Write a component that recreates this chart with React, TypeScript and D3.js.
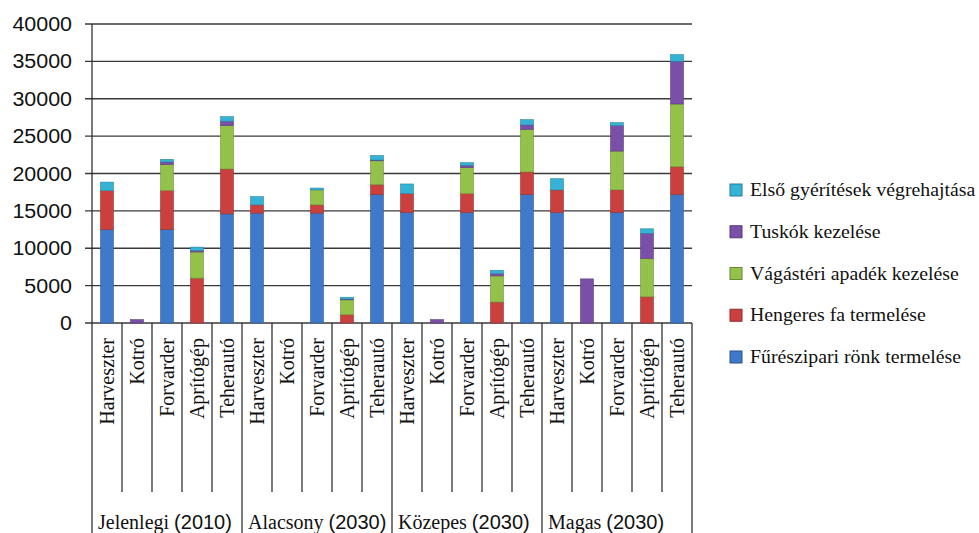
import * as d3 from "d3";
import React from "react";

// categories: machines within each scenario
const machines = ["Harveszter", "Kotró", "Forvarder", "Aprítógép", "Teherautó"];
const scenarios = ["Jelenlegi", "Alacsony", "Közepes", "Magas"];
const scenarioYears = ["(2010)", "(2030)", "(2030)", "(2030)"];

// series values, 20 bars each (scenario x machine)
const fureszipari = [12500, 0, 12500, 0, 14600, 14700, 0, 14700, 0, 17200, 14800, 0, 14800, 0, 17200, 14800, 0, 14800, 0, 17200];
const hengeres = [5200, 0, 5200, 6000, 6000, 1100, 0, 1100, 1100, 1300, 2500, 0, 2500, 2800, 3000, 3000, 0, 3000, 3500, 3700];
const vagasteri = [0, 0, 3500, 3500, 5800, 0, 0, 2000, 2000, 3200, 0, 0, 3500, 3500, 5700, 0, 0, 5200, 5150, 8400];
const tuskok = [0, 450, 350, 200, 600, 0, 0, 0, 100, 100, 0, 450, 300, 300, 600, 0, 5900, 3400, 3350, 5700];
const elso = [1150, 0, 350, 450, 600, 1100, 0, 250, 250, 600, 1300, 0, 350, 450, 700, 1500, 0, 400, 600, 900];

// stack order bottom -> top
const seriesKeys = ["fureszipari", "hengeres", "vagasteri", "tuskok", "elso"];
const seriesNames = [
  "Fűrészipari rönk termelése",
  "Hengeres fa termelése",
  "Vágástéri apadék kezelése",
  "Tuskók kezelése",
  "Első gyérítések végrehajtása",
];
const seriesColors = ["#3f79c9", "#c9403e", "#94c14a", "#7a4fa8", "#36b2d6"];
const seriesValues = [fureszipari, hengeres, vagasteri, tuskok, elso];

const yTicks = [0, 5000, 10000, 15000, 20000, 25000, 30000, 35000, 40000];

const serif = "Liberation Serif, DejaVu Serif, serif";
const sans = "Liberation Sans, Arial, sans-serif";

export default function App(): React.ReactElement {
  const width = 979;
  const height = 533;
  const left = 92;
  const right = 692;
  const top = 24;
  const zero = 323;

  const rows = d3.range(scenarios.length * machines.length).map((i) => {
    const row: Record<string, number> = { idx: i };
    seriesKeys.forEach((k, s) => (row[k] = seriesValues[s][i]));
    return row;
  });

  const stacked = d3.stack<Record<string, number>>().keys(seriesKeys)(rows);

  const x = d3.scaleBand<number>().domain(rows.map((r) => r.idx)).range([left, right]);
  const y = d3.scaleLinear().domain([0, 40000]).range([zero, top]);
  const barW = x.bandwidth() * 0.43;

  const color = d3.scaleOrdinal<string>().domain(seriesKeys).range(seriesColors);

  return (
    <svg
      width={width}
      height={height}
      style={{ position: "absolute", left: 0, top: 0, background: "#fff" }}
    >
      {/* grid + y ticks */}
      {yTicks.map((t) => (
        <g key={`yt-${t}`}>
          <line x1={left - 7} x2={right} y1={y(t)} y2={y(t)} stroke="#3a3a3a" strokeWidth={1.3} />
          <text
            transform={`translate(72,${y(t) + 7}) scale(1.1,1)`}
            textAnchor="end"
            style={{ fontFamily: sans }}
            fontSize={19.5}
            fill="#111"
          >
            {t}
          </text>
        </g>
      ))}

      {/* category separators below the axis */}
      {d3.range(rows.length + 1).map((i) => {
        const xx = i < rows.length ? (x(i) as number) : right;
        return (
          <line
            key={`sep-${i}`}
            x1={xx}
            x2={xx}
            y1={i === 0 ? top : zero}
            y2={i % machines.length === 0 ? height : 492}
            stroke="#222"
            strokeWidth={1.2}
          />
        );
      })}

      {/* bars */}
      {stacked.map((layer) =>
        layer.map((d, i) => {
          const h = y(d[0]) - y(d[1]);
          if (h <= 0) return null;
          const c = color(layer.key);
          return (
            <rect
              key={`${layer.key}-${i}`}
              x={(x(i) as number) + (x.bandwidth() - barW) / 2}
              y={y(d[1])}
              width={barW}
              height={h}
              fill={c}
              stroke={d3.color(c)!.darker(0.8).toString()}
              strokeWidth={0.6}
            />
          );
        })
      )}

      {/* machine labels */}
      {rows.map((r) => (
        <text
          key={`cat-${r.idx}`}
          transform={`translate(${(x(r.idx) as number) + x.bandwidth() / 2 + 7},338) rotate(-90)`}
          textAnchor="end"
          style={{ fontFamily: serif }}
          fontSize={20}
          fill="#111"
        >
          {machines[r.idx % machines.length]}
        </text>
      ))}

      {/* scenario labels */}
      {scenarios.map((s, g) => (
        <text
          key={`grp-${s}`}
          x={(x(g * machines.length) as number) + 6}
          y={529}
          style={{ fontFamily: serif }}
          fontSize={20}
          fill="#111"
        >
          {s}{" "}
          <tspan style={{ fontFamily: sans }} fontSize={20}>
            {scenarioYears[g]}
          </tspan>
        </text>
      ))}

      {/* legend, top entry = top of stack */}
      {seriesKeys
        .slice()
        .reverse()
        .map((k, i) => {
          const cy = 190 + i * 41.75;
          const c = color(k);
          return (
            <g key={`leg-${k}`}>
              <rect
                x={730}
                y={cy - 6}
                width={12}
                height={12}
                fill={c}
                stroke={d3.color(c)!.darker(1).toString()}
                strokeWidth={1}
              />
              <text
                transform={`translate(750,${cy + 6}) scale(1.1,1)`}
                style={{ fontFamily: serif }}
                fontSize={18}
                fill="#111"
              >
                {seriesNames[seriesKeys.indexOf(k)]}
              </text>
            </g>
          );
        })}
    </svg>
  );
}
